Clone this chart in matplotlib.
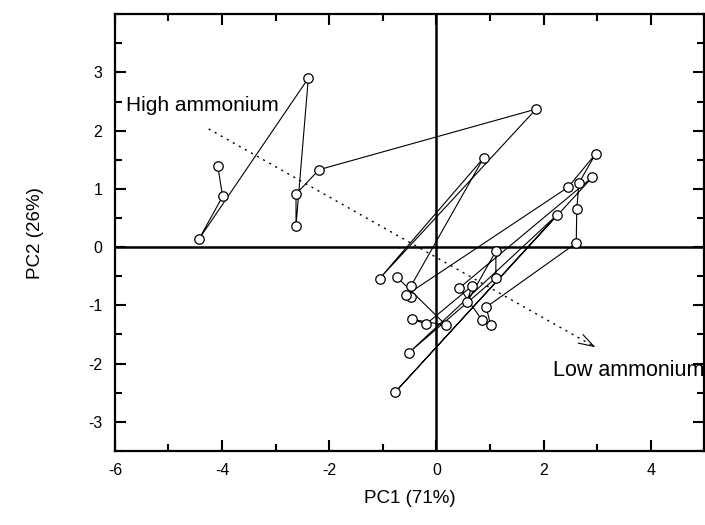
import numpy as np
import matplotlib.pyplot as plt
from matplotlib.ticker import MultipleLocator

plt.rcParams['font.family'] = ['Liberation Sans', 'DejaVu Sans']
plt.rcParams['axes.unicode_minus'] = False

# ── Data: PCA scores in sampling order ───────────────────────────────────────
pc1 = [-4.08, -3.99, -4.43, -2.39, -2.62, -2.62, -2.19, 1.86, -1.06, 0.88,
       -0.47, -0.48, -0.56, 2.46, 2.97, 2.66, 2.62, 2.61, 0.93, 1.01,
       0.85, 0.43, 2.91, -0.77, 2.26, -0.51, 1.11, 1.11, 0.57, 0.66,
       -0.19, -0.45, 0.18, -0.74]
pc2 = [1.39, 0.87, 0.14, 2.90, 0.37, 0.91, 1.33, 2.37, -0.54, 1.53,
       -0.66, -0.86, -0.82, 1.03, 1.60, 1.10, 0.66, 0.07, -1.03, -1.33,
       -1.25, -0.70, 1.20, -2.49, 0.56, -1.81, -0.53, -0.07, -0.95, -0.67,
       -1.32, -1.24, -1.34, -0.51]

# ammonium gradient arrow
arrow_start = (-4.25, 2.03)
arrow_end = (2.97, -1.72)

fig = plt.figure(figsize=(7.05, 5.25), dpi=100)
ax = fig.add_axes([0.163, 0.141, 0.836, 0.832])

# zero lines
ax.axhline(0, color='black', lw=1.8, zorder=1)
ax.axvline(0, color='black', lw=1.8, zorder=1)

# trajectory
ax.plot(pc1, pc2, '-', color='black', lw=0.8, zorder=3,
        marker='o', markersize=6.8, markerfacecolor='white',
        markeredgecolor='black', markeredgewidth=0.9)

# dotted gradient arrow with open head
ax.plot([arrow_start[0], arrow_end[0]], [arrow_start[1], arrow_end[1]],
        color='black', lw=1.0, linestyle=(0, (1.5, 3.5)), zorder=2)
d = np.array(arrow_end) - np.array(arrow_start)
d = d / np.hypot(*d)
ax.annotate('', xy=arrow_end, xytext=tuple(np.array(arrow_end) - 0.05 * d),
            arrowprops=dict(arrowstyle='->,head_length=1.1,head_width=0.35',
                            color='black', lw=0.8, shrinkA=0, shrinkB=0))

ax.text(-5.79, 2.44, 'High ammonium', fontsize=15, va='center', ha='left')
ax.text(2.17, -2.11, 'Low ammonium', fontsize=15.5, va='center', ha='left',
        clip_on=False)

ax.set_xlim(-6, 5)
ax.set_ylim(-3.5, 4)
ax.xaxis.set_major_locator(MultipleLocator(2))
ax.xaxis.set_minor_locator(MultipleLocator(1))
ax.yaxis.set_major_locator(MultipleLocator(1))
ax.yaxis.set_minor_locator(MultipleLocator(0.5))
ax.set_yticks([-3, -2, -1, 0, 1, 2, 3])
ax.tick_params(which='both', direction='in', top=True, right=True,
               width=1.5, labelsize=11.5)
ax.tick_params(which='major', length=8, pad=9)
ax.tick_params(which='minor', length=5)
for s in ax.spines.values():
    s.set_linewidth(1.6)

ax.set_xlabel('PC1 (71%)', fontsize=13.5, labelpad=8)
ax.set_ylabel('PC2 (26%)', fontsize=13.5, labelpad=32)

fig.savefig('out.png', dpi=100)
